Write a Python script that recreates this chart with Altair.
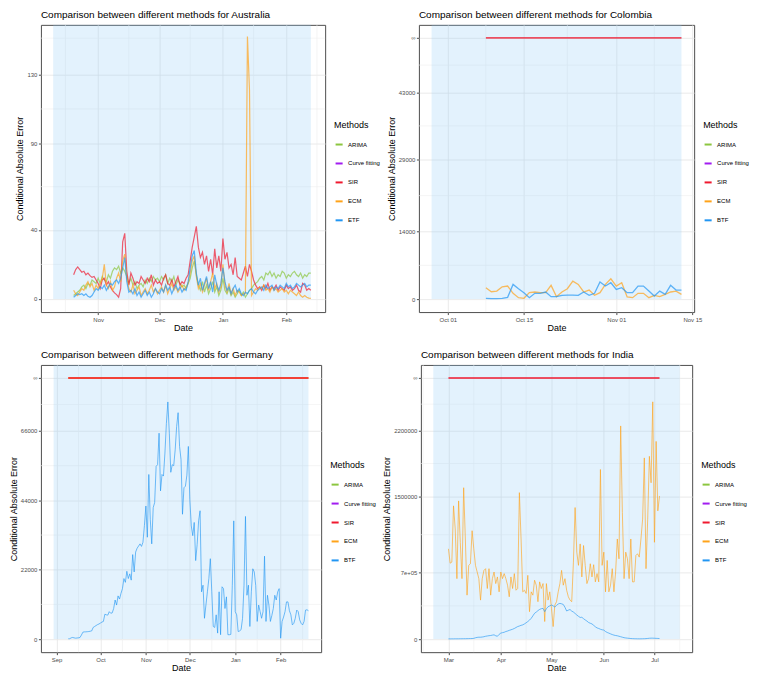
import altair as alt
import pandas as pd

# ---------------- categories / colours ----------------
METHODS_A = ["ARIMA", "Curve fitting", "SIR", "ECM", "ETF"]
METHODS_B = ["ARIMA", "Curve fitting", "SIR", "ECM", "BTF"]
COLORS = ["#8CC63F", "#A21CF0", "#F0192F", "#FFA31A", "#2196F3"]

# ---------------- Australia (daily, from 2020-10-20) ----------------
AUS_START = "2020-10-20"
AUS_ARIMA = [2, 3, 4, 5, 7, 8, 6, 9, 8, 11, 10, 9,
             12, 9, 13, 11, 10, 14, 12, 16, 18, 17, 19, 15,
             18, 16, 13, 9, 12, 8, 10, 6, 8, 9, 7, 11, 9, 12, 10, 13, 11, 12,
             10, 13, 11, 14, 9, 12, 10, 13, 8, 11, 9, 7, 8, 6,
             9, 12, 18, 22, 14, 8, 5, 10, 4, 8, 3, 6, 10, 4, 7, 2, 5,
             12, 5, 3, 6, 2, 4, 1, 3, 5, 2, 4, 1, 3, 5, 6, 8, 9, 10,
             12, 13, 11, 15, 14, 16, 13, 15, 12, 14, 13, 16, 15, 12, 14, 13, 15, 16, 14, 13, 15, 12, 14, 13, 15, 15]
AUS_SIR = [14, 17, 18.5, 17, 15.5, 16, 14, 15, 13.5, 12.5, 13, 11,
           9, 6, 11, 12, 8, 10, 7, 5, 3.5, 2.5, 1, 6,
           33, 38, 16, 8, 15, 12, 8, 10, 9, 13, 11, 9, 12, 10, 14, 8, 11, 9,
           10, 8, 12, 14, 9, 8, 11, 7, 10, 13, 8, 10, 9, 12,
           14, 22, 30, 36, 42, 30, 24, 27, 20, 25, 16, 23, 14, 29, 18, 25, 16,
           35, 23, 27, 18, 20, 14, 24, 13, 12, 11, 15, 19, 13, 20, 16, 11, 8, 6,
           7, 5, 8, 6, 9, 5, 7, 6, 8, 5, 7, 6, 5, 8, 6, 7, 5, 6, 8, 5, 4, 9, 8, 5, 6, 5]
AUS_ECM = [5, 3, 2, 4, 6, 5, 8, 10, 7, 9, 5, 8,
           6, 9, 12, 20, 8, 6, 10, 5, 7, 12, 15, 10,
           22, 26, 12, 6, 4, 8, 3, 5, 7, 2, 4, 6, 3, 5, 8, 4, 6, 3,
           5, 7, 4, 8, 3, 6, 9, 5, 7, 4, 6, 8, 5, 7,
           9, 15, 22, 25, 13, 6, 9, 4, 8, 12, 5, 10, 15, 6, 9, 4, 7,
           20, 8, 4, 9, 3, 6, 2, 5, 4, 2, 3, 3, 152, 121, 2, 4, 6, 5,
           7, 6, 8, 5, 6, 4, 7, 5, 6, 4, 5, 6, 4, 5, 3, 5, 4, 3, 2, 4, 2, 1, 2, 1, 0.5, 0.3]
AUS_ETF = [1, 2, 3, 2.5, 3, 2, 3, 1.5, 1, 2, 4, 6,
           5, 7, 6, 8, 5, 7, 9, 8, 10, 11, 9, 12,
           18, 24, 10, 4, 5, 3, 6, 2, 4, 1, 3, 5, 2, 4, 1, 3, 6, 4,
           3, 6, 4, 8, 5, 7, 3, 6, 8, 5, 7, 4, 6, 5,
           10, 18, 25, 28, 15, 8, 12, 5, 9, 13, 6, 10, 4, 14, 8, 5, 9,
           18, 10, 5, 7, 3, 6, 8, 4, 6, 3, 2, 4, 3, 5, 6, 4, 3, 5,
           6, 7, 5, 8, 6, 7, 8, 5, 7, 6, 8, 7, 6, 9, 7, 8, 6, 7, 9, 8, 7, 8, 9, 7, 8, 8]

# ---------------- Colombia (daily, from 2020-10-08) ----------------
COL_START = "2020-10-08"
COL_INF = 54300
COL_ECM = [2350, 1520, 1650, 2550, 2700, 1180, 280, 150, 1320, 1460, 1320, 1320, 2840, 490,
           1460, 2150, 3730, 3040, 1460, 1870, 770, 1320, 3040, 4210, 2700, 3390, 420, 280,
           1180, 1180, 280, 770, 490, 970, 1460, 1650, 970]
COL_BTF = [150, 80, 80, 150, 350, 3040, 2150, 1320, 280, 1180, 1180, 1460, 490, 490,
           770, 830, 830, 770, 1460, 770, 1180, 3530, 2700, 3390, 2000, 2350, 1320, 1320,
           2700, 2700, 1650, 620, 1650, 970, 2840, 1870, 1870]

# ---------------- Germany (daily, from 2020-09-09) ----------------
GER_START = "2020-09-09"
GER_INF = 82800
GER_BTF = [100, 120, 400, 520, 400, 300, 350, 420, 500, 1300,
           2200, 2300, 2300, 2350, 2400, 2500, 2600, 3700, 4000, 4300,
           4600, 4800, 5100, 5400, 5600, 7900, 7700, 7600, 8700, 8200,
           8300, 9700, 12400, 10800, 13700, 12700, 14500, 16000, 19200, 18000,
           21500, 19200, 20700, 18700, 26800, 21300, 27600, 28800, 29500, 30200,
           29400, 30700, 36000, 42200, 32300, 52200, 38000, 30200, 41700, 43300,
           54800, 55300, 65300, 47000, 52200, 51700, 59000, 68400, 75200, 65300,
           52900, 55300, 55000, 60000, 67400, 71800, 61100, 56900, 39600, 48000,
           48500, 52000, 61100, 44300, 35900, 32800, 37000, 24900, 30000, 37500,
           40700, 15000, 17100, 6600, 10800, 15000, 19200, 25500, 15000, 4000,
           3700, 7700, 1900, 15000, 1400, 16600, 16000, 9700, 13400, 1400,
           1400, 1500, 17100, 37500, 8700, 7700, 2400, 2600, 3000, 6600,
           17100, 38900, 13900, 17100, 4000, 15000, 22300, 21300, 17000, 5600,
           10800, 8700, 6600, 8700, 26300, 5600, 13900, 10800, 5600, 7500,
           9700, 13900, 12400, 15000, 16000, 300, 5600, 7000, 8700, 11800,
           11800, 9000, 7700, 4500, 5000, 6600, 9200, 8700, 6100, 5000,
           4500, 5600, 9200, 9300, 9000]

# ---------------- India (daily, from 2021-03-01) ----------------
IND_START = "2021-03-01"
IND_INF = 2751000
IND_ECM = [951000, 800000, 811000, 1404000, 1160000, 637000, 1456000, 1020000, 637000, 1595000,
           1055000, 463000, 777000, 794000, 1142000, 951000, 777000, 707000, 637000, 411000,
           637000, 724000, 742000, 533000, 742000, 463000, 637000, 707000, 585000, 655000,
           498000, 707000, 637000, 690000, 637000, 568000, 446000, 655000, 533000, 690000,
           515000, 533000, 1543000, 1055000, 498000, 515000, 481000, 672000, 289000, 498000,
           463000, 620000, 568000, 394000, 603000, 533000, 585000, 185000, 585000, 411000,
           498000, 324000, 132000, 359000, 394000, 498000, 585000, 724000, 568000, 637000,
           515000, 446000, 411000, 394000, 811000, 1386000, 916000, 777000, 1003000, 655000,
           986000, 777000, 585000, 637000, 794000, 655000, 784000, 603000, 690000, 603000,
           1787000, 777000, 916000, 498000, 829000, 498000, 568000, 742000, 498000, 707000,
           1055000, 846000, 2246000, 1334000, 637000, 916000, 846000, 637000, 1055000, 603000,
           603000, 881000, 899000, 864000, 1055000, 1264000, 1909000, 742000, 1264000, 1926000,
           1647000, 2500000, 1020000, 2083000, 1351000, 1508000]
IND_BTF = [2000, 2000, 2500, 2500, 3000, 3000, 3000, 3500, 3500, 4000,
           4000, 4500, 5000, 5500, 6000, 8000, 14000, 18000, 20000, 20000,
           22000, 25000, 30000, 33000, 36000, 38000, 42000, 45000, 35000, 30000,
           50000, 63000, 68000, 72000, 80000, 85000, 92000, 98000, 104000, 112000,
           122000, 132000, 138000, 145000, 150000, 160000, 172000, 185000, 200000, 219000,
           245000, 272000, 285000, 300000, 313000, 320000, 324000, 289000, 320000, 341000,
           350000, 359000, 350000, 338000, 355000, 370000, 376000, 372000, 365000, 335000,
           296000, 305000, 312000, 295000, 285000, 270000, 254000, 240000, 228000, 230000,
           215000, 202000, 190000, 175000, 167000, 160000, 145000, 130000, 118000, 112000,
           104000, 98000, 95000, 80000, 70000, 63000, 55000, 48000, 42000, 38000,
           35000, 30000, 25000, 20000, 15000, 12000, 10000, 8000, 6000, 5000,
           4000, 3500, 3000, 3000, 3000, 3500, 4000, 5000, 7000, 9000,
           10000, 10000, 9000, 8000, 7000, 6000]

# ---------------- axes / ranges ----------------
AUS_X = ["2020-10-04", "2021-02-20"]
AUS_RECT = ["2020-10-10", "2021-02-13"]
AUS_XMAJ = ["2020-11-01", "2020-12-01", "2021-01-01", "2021-02-01"]
AUS_XMIN = ["2020-10-16", "2020-11-16", "2020-12-16", "2021-01-16", "2021-02-16"]
AUS_Y = [-7.6, 158.7]
AUS_YMAJ = [0, 40, 90, 130]
AUS_YMIN = [20, 65, 110, 151]

COL_X = ["2020-09-25T16:00:00", "2020-11-15T08:00:00"]
COL_RECT = ["2020-09-28", "2020-11-13"]
COL_XMAJ = ["2020-10-01", "2020-10-15", "2020-11-01", "2020-11-15"]
COL_XMIN = ["2020-10-08", "2020-10-23", "2020-11-08"]
COL_Y = [-2715, 57015]
COL_YMAJ = [0, 14000, 29000, 43000, COL_INF]
COL_YMIN = [7000, 21500, 36000, 48650]

GER_X = ["2020-08-21T08:00:00", "2021-02-28T16:00:00"]
GER_RECT = ["2020-08-30", "2021-02-20"]
GER_XMAJ = ["2020-09-01", "2020-10-01", "2020-11-01", "2020-12-01", "2021-01-01", "2021-02-01"]
GER_XMIN = ["2020-09-16", "2020-10-16", "2020-11-16", "2020-12-16", "2021-01-16", "2021-02-16"]
GER_Y = [-4140, 86940]
GER_YMAJ = [0, 22000, 44000, 66000, GER_INF]
GER_YMIN = [11000, 33000, 55000, 74400]

IND_X = ["2021-02-12T16:00:00", "2021-07-23T08:00:00"]
IND_RECT = ["2021-02-20", "2021-07-16"]
IND_XMAJ = ["2021-03-01", "2021-04-01", "2021-05-01", "2021-06-01", "2021-07-01"]
IND_XMIN = ["2021-02-14", "2021-03-16", "2021-04-16", "2021-05-16", "2021-06-16", "2021-07-16"]
IND_Y = [-137550, 2888550]
IND_YMAJ = [0, 700000, 1500000, 2200000, IND_INF]
IND_YMIN = [350000, 1100000, 1850000, 2475500]

NARROW = "Liberation Sans Narrow, Arial Narrow, Liberation Sans, sans-serif"
REG = "Liberation Sans, Arial, sans-serif"


def dt(s):
    t = pd.Timestamp(s)
    return alt.DateTime(year=t.year, month=t.month, date=t.day, hours=t.hour)


def long_df(start, series):
    parts = []
    for name, vals in series:
        dates = pd.date_range(start, periods=len(vals), freq="D")
        parts.append(pd.DataFrame({"date": dates, "value": vals, "method": name}))
    return pd.concat(parts, ignore_index=True)


def panel(country, methods, lines_df, inf_df, rect, xdom, xmaj, xmin, xfmt,
          ydom, ymaj, ymin, yexpr, w, h, lw):
    xs = alt.Scale(domain=[dt(v) for v in xdom], nice=False)
    ys = alt.Scale(domain=ydom, nice=False, zero=False)
    xaxis = alt.Axis(title="Date", values=[dt(v) for v in xmaj], format=xfmt)
    yargs = dict(title="Conditional Absolute Error", values=ymaj, format="d")
    if yexpr:
        yargs["labelExpr"] = yexpr
    yaxis = alt.Axis(**yargs)

    def X():
        return alt.X("date:T", scale=xs, axis=xaxis)

    def Y():
        return alt.Y("value:Q", scale=ys, axis=yaxis)

    leg = alt.Legend(title="Methods", orient="none", legendX=w + 9, legendY=96,
                     symbolType="stroke", symbolStrokeWidth=2, symbolSize=50,
                     symbolOpacity=1, rowPadding=10, titlePadding=10, labelOffset=4)
    color = alt.Color("method:N", scale=alt.Scale(domain=methods, range=COLORS), legend=leg)

    minor_x = alt.Chart(pd.DataFrame({"date": pd.to_datetime(xmin)})).mark_rule(
        color="#EFEFEF", strokeWidth=0.6).encode(x=X())
    minor_y = alt.Chart(pd.DataFrame({"value": ymin})).mark_rule(
        color="#EFEFEF", strokeWidth=0.6).encode(y=Y())
    rect_df = pd.DataFrame({"date": [pd.Timestamp(rect[0])], "date2": [pd.Timestamp(rect[1])], "value": [0]})
    rect_l = alt.Chart(rect_df).mark_rect(color="#90CAF9", opacity=0.25).encode(
        x=X(), x2="date2:T", y=Y(), y2=alt.value(0))
    lines = alt.Chart(lines_df).mark_line(strokeWidth=lw, opacity=0.7).encode(
        x=X(), y=Y(), color=color)
    layers = [minor_x, minor_y, rect_l, lines]
    if inf_df is not None:
        layers.append(alt.Chart(inf_df).mark_line(strokeWidth=1.8, opacity=0.75).encode(
            x=X(), y=Y(), color=color))
    return alt.layer(*layers).properties(
        width=w, height=h,
        title=alt.TitleParams("Comparison between different methods for " + country,
                              anchor="start", frame="group", offset=5))


aus_df = long_df(AUS_START, [("ARIMA", AUS_ARIMA), ("SIR", AUS_SIR), ("ECM", AUS_ECM), ("ETF", AUS_ETF)])
col_df = long_df(COL_START, [("ECM", COL_ECM), ("BTF", COL_BTF)])
col_inf = long_df(COL_START, [("SIR", [COL_INF] * len(COL_ECM))])
ger_df = long_df(GER_START, [("BTF", GER_BTF)])
ger_inf = long_df(GER_START, [("ECM", [GER_INF] * len(GER_BTF)), ("SIR", [GER_INF] * len(GER_BTF))])
ind_df = long_df(IND_START, [("ECM", IND_ECM), ("BTF", IND_BTF)])
ind_inf = long_df(IND_START, [("SIR", [IND_INF] * len(IND_ECM))])

H = 288
aus = panel("Australia", METHODS_A, aus_df, None, AUS_RECT, AUS_X, AUS_XMAJ, AUS_XMIN, "%b",
            AUS_Y, AUS_YMAJ, AUS_YMIN, None, 285, H, 1.2)
col = panel("Colombia", METHODS_B, col_df, col_inf, COL_RECT, COL_X, COL_XMAJ, COL_XMIN, "%b %d",
            COL_Y, COL_YMAJ, COL_YMIN, "datum.value > 50000 ? '∞' : datum.label", 276, H, 1.3)
ger = panel("Germany", METHODS_B, ger_df, ger_inf, GER_RECT, GER_X, GER_XMAJ, GER_XMIN, "%b",
            GER_Y, GER_YMAJ, GER_YMIN, "datum.value > 80000 ? '∞' : datum.label", 281, H, 0.9)
ind = panel("India", METHODS_B, ind_df, ind_inf, IND_RECT, IND_X, IND_XMAJ, IND_XMIN, "%b",
            IND_Y, IND_YMAJ, IND_YMIN,
            "datum.value > 2700000 ? '∞' : (datum.value == 700000 ? '7e+05' : datum.label)", 272, H, 0.9)

top = alt.hconcat(aus, col, spacing=4).resolve_scale(color="independent")
bot = alt.hconcat(ger, ind, spacing=4).resolve_scale(color="independent")
chart = alt.vconcat(top, bot, spacing=16).resolve_scale(color="independent").properties(
    padding={"left": 0, "top": 0, "right": 0, "bottom": 0})

chart = chart.configure_view(stroke="#4D4D4D", strokeWidth=1).configure_axis(
    labelFont=NARROW, labelFontSize=6, labelColor="#4D4D4D",
    titleFont=REG, titleFontSize=9, titleFontWeight="normal", titleColor="black",
    tickColor="#4D4D4D", tickSize=2.5, domain=False, gridColor="#E4E4E4", gridWidth=0.8,
    labelPadding=1.5, titlePadding=2, minExtent=0,
).configure_axisX(titleFont=NARROW, titleFontSize=9, titlePadding=1).configure_legend(
    labelFont=NARROW, labelFontSize=6, labelColor="black",
    titleFont=NARROW, titleFontSize=9, titleFontWeight="normal", titleColor="black",
).configure_title(font=NARROW, fontSize=10, fontWeight="normal", color="black")

chart.save("out.html", embed_options={"renderer": "svg", "actions": False})
